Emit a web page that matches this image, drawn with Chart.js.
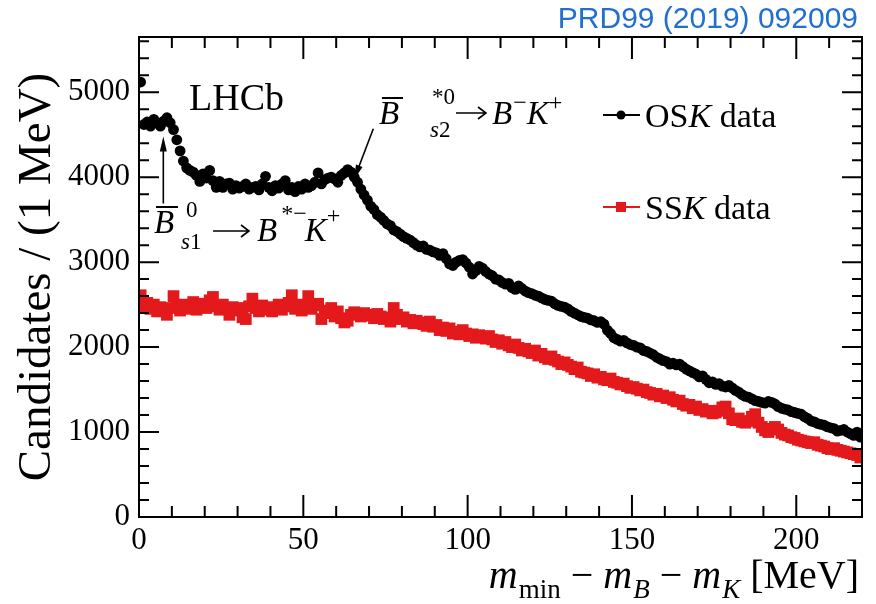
<!DOCTYPE html>
<html>
<head>
<meta charset="utf-8">
<script src="https://cdn.jsdelivr.net/npm/chart.js@4/dist/chart.umd.min.js"></script>
<style>
  html, body { margin: 0; padding: 0; background: #fff; }
  #wrap { width: 876px; height: 604px; }
</style>
</head>
<body>
<div id="wrap"><canvas id="c" width="876" height="604"></canvas></div>
<script>
// Candidates per 1 MeV bin of m_min - m_B - m_K, bins starting at 0 MeV
const binWidth = 1;

const oskCounts = [
  5120,4620,4650,4600,4680,4640,4600,4660,4700,4640,
  4560,4440,4310,4190,4110,4080,4060,4020,3950,4040,
  3990,4080,3960,3880,3950,3880,3920,3930,3860,3900,
  3870,3890,3920,3860,3880,3890,3850,3920,4010,3880,
  3840,3900,3870,3920,3960,3850,3880,3830,3890,3860,
  3920,3880,3900,3940,4050,3920,3970,3990,4000,3980,
  3940,4020,4050,4090,4060,4000,3940,3860,3790,3730,
  3660,3620,3560,3530,3490,3450,3430,3380,3360,3330,
  3300,3280,3260,3230,3200,3180,3190,3150,3140,3120,
  3110,3080,3100,3040,2980,2960,3000,3020,3030,2990,
  2940,2860,2900,2950,2930,2890,2860,2840,2800,2790,
  2760,2740,2750,2700,2680,2720,2690,2660,2640,2630,
  2610,2600,2580,2560,2550,2540,2510,2490,2480,2470,
  2450,2420,2400,2380,2360,2350,2340,2320,2310,2290,
  2300,2270,2200,2160,2110,2090,2070,2080,2050,2030,
  2020,2000,1990,1960,1950,1930,1910,1880,1860,1840,
  1830,1800,1810,1790,1800,1770,1740,1720,1700,1680,
  1650,1660,1620,1580,1590,1560,1570,1540,1530,1550,
  1520,1490,1470,1440,1420,1410,1390,1370,1360,1350,
  1340,1360,1350,1330,1300,1280,1270,1260,1240,1230,
  1220,1210,1180,1160,1130,1120,1100,1090,1080,1060,
  1050,1040,1010,1020,1030,1000,980,960,1000,940
];

const sskCounts = [
  2610,2480,2520,2450,2500,2420,2470,2440,2380,2460,
  2600,2470,2430,2500,2450,2480,2530,2440,2470,2510,
  2460,2550,2590,2480,2440,2500,2450,2380,2470,2430,
  2460,2350,2330,2480,2570,2460,2420,2490,2440,2470,
  2420,2460,2500,2440,2480,2520,2610,2450,2500,2430,
  2470,2600,2450,2490,2510,2330,2430,2400,2460,2360,
  2420,2340,2290,2310,2380,2410,2390,2360,2400,2370,
  2380,2340,2390,2360,2330,2350,2300,2460,2380,2330,
  2350,2300,2320,2280,2310,2290,2270,2250,2300,2240,
  2260,2200,2230,2190,2220,2160,2180,2150,2200,2160,
  2130,2150,2110,2140,2120,2100,2130,2090,2060,2080,
  2040,2060,2020,2000,2030,1990,1960,1980,1950,1930,
  1960,1900,1920,1880,1860,1890,1850,1830,1800,1820,
  1790,1770,1740,1760,1710,1700,1690,1660,1680,1640,
  1650,1620,1610,1630,1590,1580,1560,1570,1540,1520,
  1530,1510,1490,1500,1470,1460,1440,1450,1420,1430,
  1400,1410,1380,1360,1370,1330,1310,1320,1280,1300,
  1260,1270,1240,1250,1220,1230,1250,1290,1300,1220,
  1150,1140,1160,1120,1110,1130,1180,1210,1110,1060,
  1020,1000,1040,1060,1030,990,970,960,940,930,
  910,900,890,880,870,880,850,840,830,810,
  800,810,790,780,770,760,750,740,730,700
];

const xTickValues = [0, 50, 100, 150, 200];
const yTickValues = [0, 1000, 2000, 3000, 4000, 5000];
const xRange = [0, 220];
const yRange = [0, 5650];

const SERIF = '"Liberation Serif", "Times New Roman", serif';
const OSK_COLOR = '#000000';
const SSK_COLOR = '#e3191c';

const toPoints = counts => counts.map((v, i) => ({ x: (i + 0.5) * binWidth, y: v }));

// Draws a run of text pieces (font, offset) left to right, returns end x
function drawRuns(ctx, x, y, parts, measureOnly) {
  let cx = x;
  for (const p of parts) {
    ctx.font = p.f;
    if (!measureOnly) ctx.fillText(p.t, cx + (p.dx || 0), y + (p.dy || 0));
    cx += ctx.measureText(p.t).width + (p.dx || 0);
  }
  return cx;
}

function arrow(ctx, x0, y0, x1, y1) {
  const ang = Math.atan2(y1 - y0, x1 - x0);
  const L = 15, W = 3.5;
  ctx.beginPath();
  ctx.moveTo(x0, y0);
  ctx.lineTo(x1 - L * 0.6 * Math.cos(ang), y1 - L * 0.6 * Math.sin(ang));
  ctx.lineWidth = 1.6;
  ctx.strokeStyle = '#000';
  ctx.stroke();
  ctx.beginPath();
  ctx.moveTo(x1, y1);
  ctx.lineTo(x1 - L * Math.cos(ang) + W * Math.sin(ang), y1 - L * Math.sin(ang) - W * Math.cos(ang));
  ctx.lineTo(x1 - L * Math.cos(ang) - W * Math.sin(ang), y1 - L * Math.sin(ang) + W * Math.cos(ang));
  ctx.closePath();
  ctx.fillStyle = '#000';
  ctx.fill();
}

// Long right arrow drawn as a stroke, used inside the decay labels
function textArrow(ctx, x, yMid, len) {
  ctx.save();
  ctx.strokeStyle = '#000';
  ctx.lineWidth = 1.6;
  ctx.beginPath();
  ctx.moveTo(x, yMid); ctx.lineTo(x + len, yMid);
  ctx.moveTo(x + len - 8, yMid - 6); ctx.lineTo(x + len, yMid); ctx.lineTo(x + len - 8, yMid + 6);
  ctx.stroke();
  ctx.restore();
}

const framePlugin = {
  id: 'frame',
  afterDraw(chart) {
    const { ctx, chartArea: a, scales } = chart;
    const xs = scales.x, ys = scales.y;
    ctx.save();

    // frame
    ctx.strokeStyle = '#000';
    ctx.lineWidth = 2;
    ctx.strokeRect(a.left, a.top, a.right - a.left, a.bottom - a.top);

    // inward ticks on all four sides
    ctx.lineWidth = 2;
    ctx.beginPath();
    for (let v = xRange[0]; v <= xRange[1]; v += 10) {
      const px = xs.getPixelForValue(v);
      const len = (v % 50 === 0) ? 22 : 11;
      ctx.moveTo(px, a.bottom); ctx.lineTo(px, a.bottom - len);
      ctx.moveTo(px, a.top); ctx.lineTo(px, a.top + len);
    }
    for (let v = yRange[0]; v <= yRange[1]; v += 200) {
      const py = ys.getPixelForValue(v);
      const len = (v % 1000 === 0) ? 20 : 10;
      ctx.moveTo(a.left, py); ctx.lineTo(a.left + len, py);
      ctx.moveTo(a.right, py); ctx.lineTo(a.right - len, py);
    }
    ctx.stroke();

    ctx.fillStyle = '#000';
    ctx.textBaseline = 'alphabetic';
    ctx.textAlign = 'left';

    // x-axis title, right aligned
    const big = 40, sub = 27;
    const it = s => `italic ${s}px ${SERIF}`;
    const rm = s => `${s}px ${SERIF}`;
    const xTitle = [
      { t: 'm', f: it(big) },
      { t: 'min', f: rm(sub), dy: 10, dx: 1 },
      { t: ' \u2212 ', f: rm(big) },
      { t: 'm', f: it(big) },
      { t: 'B', f: it(sub), dy: 10, dx: 1 },
      { t: ' \u2212 ', f: rm(big) },
      { t: 'm', f: it(big) },
      { t: 'K', f: it(sub), dy: 10, dx: 1 },
      { t: ' [MeV]', f: rm(big) }
    ];
    const tw = drawRuns(ctx, 0, 0, xTitle, true);
    drawRuns(ctx, 859 - tw, 588, xTitle);

    // LHCb label
    ctx.font = rm(38);
    ctx.fillText('LHCb', 189, 110);

    // legend
    const legend = [
      { color: OSK_COLOR, style: 'circle', y: 115, label: 'OS' },
      { color: SSK_COLOR, style: 'rect', y: 207, label: 'SS' }
    ];
    for (const e of legend) {
      ctx.strokeStyle = e.color;
      ctx.fillStyle = e.color;
      ctx.lineWidth = 2;
      ctx.beginPath();
      ctx.moveTo(603, e.y); ctx.lineTo(640, e.y);
      ctx.stroke();
      if (e.style === 'circle') {
        ctx.beginPath(); ctx.arc(621, e.y, 4.5, 0, Math.PI * 2); ctx.fill();
      } else {
        ctx.fillRect(616, e.y - 5, 10, 10);
      }
      ctx.fillStyle = '#000';
      drawRuns(ctx, 645, e.y + 12, [
        { t: e.label, f: rm(34) },
        { t: 'K', f: it(34) },
        { t: ' data', f: rm(34) }
      ]);
    }

    // B_s1 annotation
    ctx.fillStyle = '#000';
    ctx.font = it(33);
    ctx.fillText('B', 154, 233);
    ctx.fillRect(156, 206, 22, 2);
    ctx.font = rm(23); ctx.fillText('0', 186, 217);
    drawRuns(ctx, 181, 249, [{ t: 's', f: it(23) }, { t: '1', f: rm(23) }]);
    textArrow(ctx, 213, 231, 36);
    drawRuns(ctx, 257, 241, [
      { t: 'B', f: it(33) },
      { t: '*\u2212', f: rm(24), dy: -20, dx: 4 },
      { t: 'K', f: it(33), dx: -2 },
      { t: '+', f: rm(24), dy: -18 }
    ]);

    // B_s2 annotation
    ctx.font = it(33);
    ctx.fillText('B', 379, 124);
    ctx.fillRect(382, 97, 21, 2);
    ctx.font = rm(23); ctx.fillText('*0', 432, 104);
    drawRuns(ctx, 430, 137, [{ t: 's', f: it(23) }, { t: '2', f: rm(23) }]);
    textArrow(ctx, 456, 113, 30);
    drawRuns(ctx, 492, 124, [
      { t: 'B', f: it(33) },
      { t: '\u2212', f: rm(24), dy: -14, dx: 1 },
      { t: 'K', f: it(33) },
      { t: '+', f: rm(24), dy: -14 }
    ]);

    // arrows pointing at the two structures
    arrow(ctx, xs.getPixelForValue(7.4), ys.getPixelForValue(3690),
               xs.getPixelForValue(7.4), ys.getPixelForValue(4480));
    arrow(ctx, xs.getPixelForValue(71.3), ys.getPixelForValue(4570),
               xs.getPixelForValue(65.4), ys.getPixelForValue(3970));

    // reference
    ctx.fillStyle = '#2170d0';
    ctx.font = '30px "Liberation Sans", Arial, sans-serif';
    ctx.textAlign = 'right';
    ctx.fillText('PRD99 (2019) 092009', 858, 28);

    ctx.restore();
  }
};

new Chart(document.getElementById('c'), {
  type: 'scatter',
  data: {
    datasets: [
      {
        label: 'OSK data',
        data: toPoints(oskCounts),
        pointStyle: 'circle',
        pointRadius: 5.4,
        pointBorderWidth: 0,
        backgroundColor: OSK_COLOR,
        borderColor: OSK_COLOR,
        showLine: false
      },
      {
        label: 'SSK data',
        data: toPoints(sskCounts),
        pointStyle: 'rect',
        pointRadius: 8.3,
        pointBorderWidth: 0,
        backgroundColor: SSK_COLOR,
        borderColor: SSK_COLOR,
        showLine: false
      }
    ]
  },
  options: {
    responsive: false,
    animation: false,
    devicePixelRatio: 1,
    layout: { padding: { top: 37, right: 14, left: 0, bottom: 0 } },
    plugins: { legend: { display: false }, tooltip: { enabled: false } },
    scales: {
      x: {
        type: 'linear',
        min: xRange[0], max: xRange[1],
        grid: { display: false, drawTicks: false },
        border: { display: false },
        afterBuildTicks: s => { s.ticks = xTickValues.map(v => ({ value: v })); },
        afterFit: s => { s.height = 87; },
        ticks: {
          color: '#000',
          padding: 5,
          maxRotation: 0,
          callback: v => String(v),
          font: { family: SERIF, size: 31 }
        }
      },
      y: {
        type: 'linear',
        min: yRange[0], max: yRange[1],
        grid: { display: false, drawTicks: false },
        border: { display: false },
        afterBuildTicks: s => { s.ticks = yTickValues.map(v => ({ value: v })); },
        afterFit: s => { s.width = 139; },
        title: {
          display: true,
          text: 'Candidates / (1 MeV)',
          color: '#000',
          font: { family: SERIF, size: 47 },
          padding: { top: 9, bottom: 0 }
        },
        ticks: {
          color: '#000',
          padding: 9,
          callback: v => String(v),
          font: { family: SERIF, size: 31 }
        }
      }
    }
  },
  plugins: [framePlugin]
});
</script>
</body>
</html>
